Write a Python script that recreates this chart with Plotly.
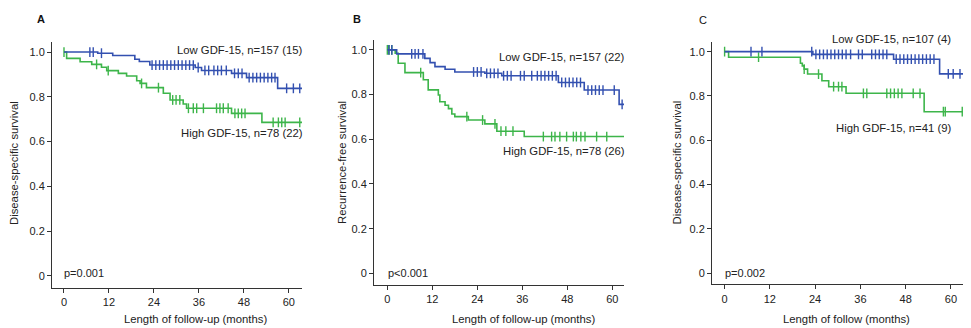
import numpy as np
import plotly.graph_objects as go

# the page body has an 8px margin, so the figure is drawn 8px in from the window corner
OFF = 8
W, H = 971 - OFF, 328 - OFF

# ---------------- data ----------------
# Panel A: disease-specific survival
A_low_t = [0, 9.0, 13.0, 18.9, 20.1, 22.9, 35.0, 36.7, 44.7, 48.7, 57.0]
A_low_s = [1.0, 0.995, 0.985, 0.968, 0.958, 0.942, 0.931, 0.918, 0.905, 0.886, 0.838]
A_low_c = [6.9, 7.8, 10.0, 23.5, 24.5, 25.5, 26.5, 27.5, 28.5, 29.5, 30.5, 31.5, 32.5, 33.5, 34.5,
           35.8, 37.6, 38.6, 40.0, 41.0, 42.0, 43.3, 45.5, 46.5, 47.5, 49.4, 50.4, 51.4, 52.4, 53.4,
           54.4, 55.4, 56.3, 59.4, 61.2, 62.9]
A_high_t = [0, 0.7, 4.3, 7.4, 10.0, 11.4, 14.5, 16.7, 19.4, 20.3, 22.0, 26.5, 28.3, 31.8, 32.7, 44.7, 52.8]
A_high_s = [1.0, 0.972, 0.957, 0.945, 0.932, 0.917, 0.905, 0.893, 0.872, 0.860, 0.841, 0.816, 0.786,
            0.768, 0.749, 0.726, 0.686]
A_high_c = [0, 8.7, 11.8, 20.7, 25.2, 29.0, 29.9, 30.9, 33.2, 34.5, 35.4, 37.2, 40.7, 41.6, 42.5, 43.8,
            45.6, 46.5, 47.4, 48.3, 55.8, 57.2, 58.1, 59.0, 62.9]
A_end = 64.3

# Panel B: recurrence-free survival
B_low_t = [0, 2.5, 10.0, 11.4, 12.7, 15.4, 18.0, 26.0, 30.5, 45.6, 52.5, 61.8]
B_low_s = [1.0, 0.982, 0.962, 0.943, 0.925, 0.913, 0.901, 0.895, 0.884, 0.854, 0.820, 0.756]
B_low_c = [0.4, 1.2, 6.5, 7.4, 8.3, 9.5, 23.0, 24.0, 25.0, 26.5, 27.5, 28.5, 29.5, 31.0, 32.0, 33.0,
           35.5, 36.5, 38.5, 40.0, 41.0, 42.0, 43.0, 44.0, 45.0, 46.5, 47.5, 48.5, 49.5, 50.5, 51.5,
           53.5, 54.5, 55.5, 56.5, 57.5, 60.5, 62.6, 63.5]
B_high_t = [0, 2.1, 2.9, 4.7, 9.6, 10.9, 13.6, 14.0, 15.4, 16.3, 17.2, 18.0, 21.6, 26.0, 29.2, 36.5]
B_high_s = [1.0, 0.985, 0.940, 0.898, 0.866, 0.821, 0.798, 0.768, 0.752, 0.737, 0.713, 0.701, 0.686,
            0.669, 0.636, 0.612]
B_high_c = [0, 0.5, 1.2, 8.9, 21.2, 25.4, 28.7, 30.3, 31.6, 33.5, 41.6, 43.8, 44.7, 46.0, 47.8, 49.6,
            50.4, 51.6, 52.7, 55.8, 58.5, 63.5]
B_end = 64.2

# Panel C: disease-specific survival (second cohort)
C_low_t = [0, 23.4, 44.8, 57.0]
C_low_s = [1.0, 0.988, 0.966, 0.900]
C_low_c = [7.0, 9.9, 23.1, 24.2, 25.2, 26.2, 27.2, 28.2, 29.2, 30.2, 31.2, 32.2, 33.4, 35.5, 36.5,
           39.0, 40.0, 41.0, 42.0, 43.0, 45.5, 46.5, 47.5, 48.5, 49.5, 50.5, 51.5, 52.5, 53.5, 54.5,
           55.5, 59.3, 60.6, 62.4]
C_high_t = [0, 1.06, 20.1, 20.6, 21.1, 22.0, 25.8, 27.6, 32.2, 52.9]
C_high_s = [1.0, 0.975, 0.948, 0.936, 0.921, 0.899, 0.869, 0.842, 0.812, 0.729]
C_high_c = [0, 9.0, 21.1, 24.9, 28.9, 30.2, 31.1, 36.8, 37.7, 43.0, 44.0, 45.0, 46.0, 47.0, 50.0,
            51.8, 58.0, 58.5, 63.0]
C_end = 64.6

x_ticks = [0, 12, 24, 36, 48, 60]
y_ticks = [0, 0.2, 0.4, 0.6, 0.8, 1.0]
y_ticktext = ["0", "0.2", "0.4", "0.6", "0.8", "1.0"]

BLUE = "#3350b0"
GREEN = "#3db54a"
FONT = "Liberation Sans, Arial, Helvetica, sans-serif"
TXT = "#222222"


def fx(px):
    return (px - OFF) / W


def fy(py):
    return 1 - (py - OFF) / H


panels = [
    dict(low=(A_low_t, A_low_s, A_low_c), high=(A_high_t, A_high_s, A_high_c), end=A_end,
         xpx=(52, 302), ypx=(42, 288), xr=[-3.2, 63.5], yr=[-0.054, 1.045],
         ytitle="Disease-specific survival", ytx=14,
         xtitle="Length of follow-up (months)", xtx=195,
         low_lab="Low GDF-15, n=157 (15)", low_pos=(305, 50),
         high_lab="High GDF-15, n=78 (22)", high_pos=(305, 133),
         p="p=0.001", ppos=(62, 272.7), letter="A", lpos=(40.7, 19), bold=True),
    dict(low=(B_low_t, B_low_s, B_low_c), high=(B_high_t, B_high_s, B_high_c), end=B_end,
         xpx=(374, 624), ypx=(40, 285), xr=[-3.55, 63.1], yr=[-0.052, 1.044],
         ytitle="Recurrence-free survival", ytx=342,
         xtitle="Length of follow-up (months)", xtx=523,
         low_lab="Low GDF-15, n=157 (22)", low_pos=(627, 57),
         high_lab="High GDF-15, n=78 (26)", high_pos=(627, 151),
         p="p<0.001", ppos=(386, 272.7), letter="B", lpos=(357, 19), bold=True),
    dict(low=(C_low_t, C_low_s, C_low_c), high=(C_high_t, C_high_s, C_high_c), end=C_end,
         xpx=(712, 963), ypx=(41.7, 284.3), xr=[-3.34, 63.2], yr=[-0.05, 1.045],
         ytitle="Disease-specific survival", ytx=676.5,
         xtitle="Length of follow (months)", xtx=846,
         low_lab="Low GDF-15, n=107 (4)", low_pos=(953, 39.5),
         high_lab="High GDF-15, n=41 (9)", high_pos=(953, 128),
         p="p=0.002", ppos=(722.7, 272.7), letter="C", lpos=(703, 20), bold=False),
]

fig = go.Figure()
annotations = []
layout_axes = {}


def step_value(t, s, c):
    t = np.asarray(t, float)
    s = np.asarray(s, float)
    idx = np.searchsorted(t, np.asarray(c, float), side="right") - 1
    return s[np.clip(idx, 0, len(s) - 1)]


for i, p in enumerate(panels, start=1):
    xa = "x" if i == 1 else f"x{i}"
    ya = "y" if i == 1 else f"y{i}"
    for key, col in (("high", GREEN), ("low", BLUE)):
        t, s, c = p[key]
        tt = list(t) + [p["end"]]
        ss = list(s) + [s[-1]]
        fig.add_trace(go.Scatter(x=tt, y=ss, mode="lines", line=dict(color=col, width=1.6, shape="hv"),
                                 xaxis=xa, yaxis=ya, showlegend=False, hoverinfo="skip"))
        fig.add_trace(go.Scatter(x=c, y=step_value(t, s, c), mode="markers",
                                 marker=dict(symbol="line-ns-open", size=7, color=col,
                                             line=dict(color=col, width=1.4)),
                                 xaxis=xa, yaxis=ya, showlegend=False, hoverinfo="skip"))
    xk = "xaxis" if i == 1 else f"xaxis{i}"
    yk = "yaxis" if i == 1 else f"yaxis{i}"
    layout_axes[xk] = dict(domain=[fx(p["xpx"][0]), fx(p["xpx"][1])], range=p["xr"], anchor=ya,
                           tickvals=x_ticks, showgrid=False, zeroline=False, showline=True,
                           linecolor="#333333", linewidth=1, ticks="outside", ticklen=4,
                           tickcolor="#333333", tickfont=dict(family=FONT, size=11, color=TXT),
                           fixedrange=True)
    layout_axes[yk] = dict(domain=[fy(p["ypx"][1]), fy(p["ypx"][0])], range=p["yr"], anchor=xa,
                           tickvals=y_ticks, ticktext=y_ticktext, showgrid=False, zeroline=False,
                           showline=True, linecolor="#333333", linewidth=1, ticks="outside", ticklen=4,
                           tickcolor="#333333", tickfont=dict(family=FONT, size=11, color=TXT),
                           fixedrange=True)
    f = dict(family=FONT, size=11.3, color=TXT)
    annotations += [
        dict(text=p["ytitle"], x=fx(p["ytx"]), y=fy(163), xref="paper", yref="paper",
             textangle=-90, showarrow=False, font=f, xanchor="center", yanchor="middle"),
        dict(text=p["xtitle"], x=fx(p["xtx"]), y=fy(319), xref="paper", yref="paper",
             showarrow=False, font=f, xanchor="center", yanchor="middle"),
        dict(text=p["low_lab"], x=fx(p["low_pos"][0]), y=fy(p["low_pos"][1]), xref="paper",
             yref="paper", showarrow=False, font=f, xanchor="right", yanchor="middle"),
        dict(text=p["high_lab"], x=fx(p["high_pos"][0]), y=fy(p["high_pos"][1]), xref="paper",
             yref="paper", showarrow=False, font=f, xanchor="right", yanchor="middle"),
        dict(text=p["p"], x=fx(p["ppos"][0]), y=fy(p["ppos"][1]), xref="paper", yref="paper",
             showarrow=False, font=dict(family=FONT, size=11, color=TXT), xanchor="left",
             yanchor="middle"),
        dict(text=(f"<b>{p['letter']}</b>" if p["bold"] else p["letter"]), x=fx(p["lpos"][0]),
             y=fy(p["lpos"][1]), xref="paper", yref="paper", showarrow=False,
             font=dict(family=FONT, size=11, color="#111111"), xanchor="center", yanchor="middle"),
    ]

fig.update_layout(width=W, height=H, margin=dict(l=0, r=0, t=0, b=0), plot_bgcolor="white",
                  paper_bgcolor="white", annotations=annotations, **layout_axes)

fig.write_html("out.html")
